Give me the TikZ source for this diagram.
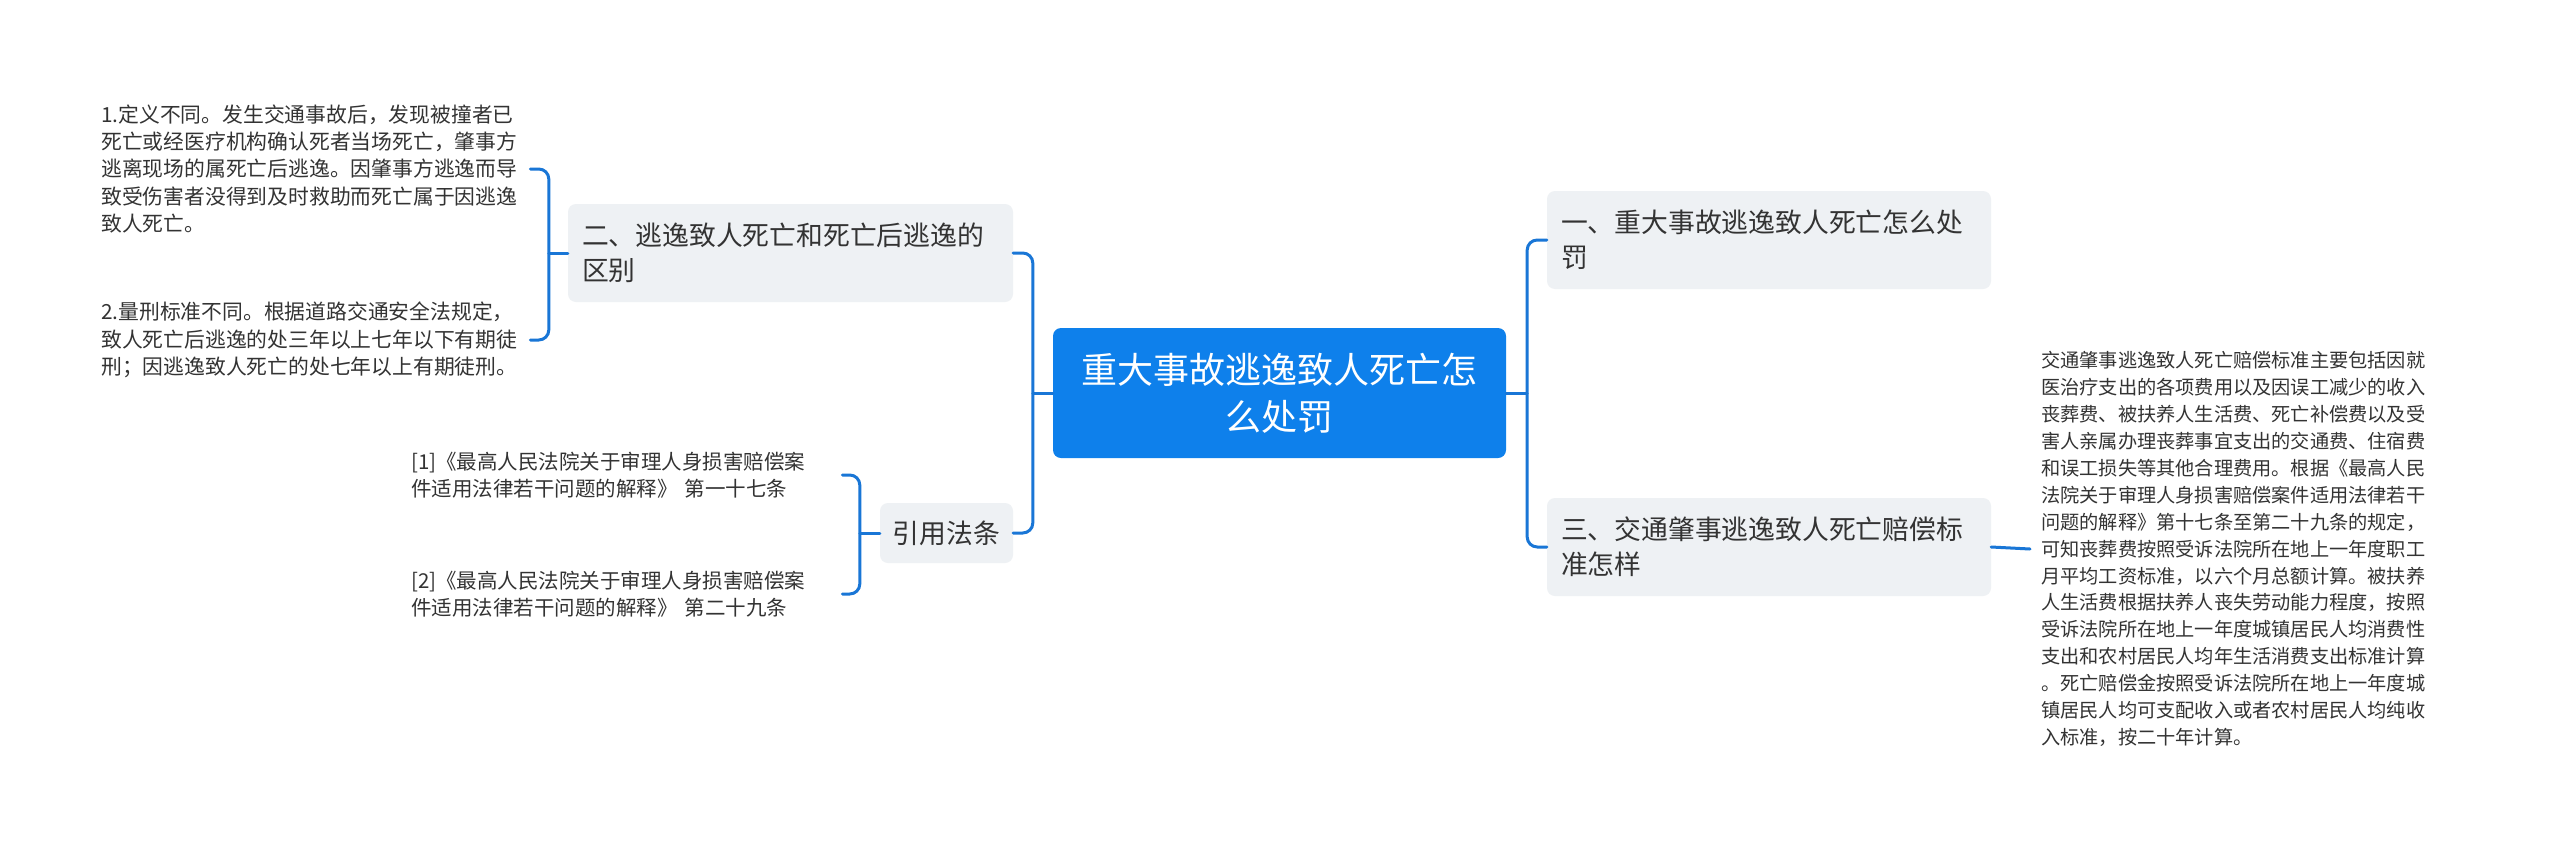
\documentclass[tikz,border=0pt]{standalone}
\usepackage{fontspec}
\setmainfont{Noto Sans CJK SC}
\usetikzlibrary{calc}
\definecolor{mainblue}{HTML}{0E80EB}
\definecolor{linkblue}{HTML}{1976D6}
\definecolor{boxgray}{HTML}{EEF1F4}
\definecolor{inkgray}{HTML}{333333}

\tikzset{
  topic/.style={fill=boxgray,rounded corners=8pt,text=inkgray,align=left,inner xsep=14pt,inner ysep=0pt,minimum height=98pt,font=\fontsize{26.8pt}{35pt}\selectfont},
  core/.style={fill=mainblue,rounded corners=8pt,text=white,align=center,minimum width=453pt,minimum height=130pt,font=\fontsize{36pt}{47pt}\selectfont},
  leaf/.style={text=inkgray,align=left,inner sep=0pt,anchor=west,font=\fontsize{20.8pt}{27.3pt}\selectfont},
  link/.style={linkblue,line width=3pt,rounded corners=10pt},
}

\begin{document}
\begin{tikzpicture}[x=1pt,y=-1pt,line cap=round,line join=round]
  \fill[white] (0,0) rectangle (2560,849);
  \useasboundingbox (0,0) rectangle (2560,849);

  \node[core] (root) at (1279.5,393) {重大事故逃逸致人死亡怎\\么处罚};

  \node[topic,text width=417pt] (q2) at (790.5,253) {二、逃逸致人死亡和死亡后逃逸的\\区别};
  \node[topic,align=center,inner xsep=0pt,minimum width=133pt,minimum height=60pt] (cite) at (946.5,533) {引用法条};
  \node[topic,text width=416pt] (q1) at (1769,240) {一、重大事故逃逸致人死亡怎么处\\罚};
  \node[topic,text width=416pt] (q3) at (1769,547) {三、交通肇事逃逸致人死亡赔偿标\\准怎样};

  \node[leaf,text width=429pt] (d1) at (101,169) {1.定义不同。发生交通事故后，发现被撞者已\\
死亡或经医疗机构确认死者当场死亡，肇事方\\
逃离现场的属死亡后逃逸。因肇事方逃逸而导\\
致受伤害者没得到及时救助而死亡属于因逃逸\\
致人死亡。};
  \node[leaf,text width=429pt] (d2) at (101,340) {2.量刑标准不同。根据道路交通安全法规定，\\
致人死亡后逃逸的处三年以上七年以下有期徒\\
刑；因逃逸致人死亡的处七年以上有期徒刑。};

  \node[leaf,text width=431pt,font=\fontsize{20.5pt}{27.3pt}\selectfont] (c1) at (411,475) {[1]《最高人民法院关于审理人身损害赔偿案\\件适用法律若干问题的解释》 第一十七条};
  \node[leaf,text width=431pt,font=\fontsize{20.5pt}{27.3pt}\selectfont] (c2) at (411,594) {[2]《最高人民法院关于审理人身损害赔偿案\\件适用法律若干问题的解释》 第二十九条};

  \node[leaf,text width=400pt,inner xsep=11pt,font=\fontsize{19.2pt}{26.9pt}\selectfont] (comp) at (2030,549) {交通肇事逃逸致人死亡赔偿标准主要包括因就\\
医治疗支出的各项费用以及因误工减少的收入\\
丧葬费、被扶养人生活费、死亡补偿费以及受\\
害人亲属办理丧葬事宜支出的交通费、住宿费\\
和误工损失等其他合理费用。根据《最高人民\\
法院关于审理人身损害赔偿案件适用法律若干\\
问题的解释》第十七条至第二十九条的规定，\\
可知丧葬费按照受诉法院所在地上一年度职工\\
月平均工资标准，以六个月总额计算。被扶养\\
人生活费根据扶养人丧失劳动能力程度，按照\\
受诉法院所在地上一年度城镇居民人均消费性\\
支出和农村居民人均年生活消费支出标准计算\\
。死亡赔偿金按照受诉法院所在地上一年度城\\
镇居民人均可支配收入或者农村居民人均纯收\\
入标准，按二十年计算。};

  % branches
  \draw[link] (root.west) -- ++(-20,0);
  \draw[link] (q2.east) -| ($(root.west)+(-20,0)$) |- (cite.east);
  \draw[link] (root.east) -- ++(21,0);
  \draw[link] (q1.west) -| ($(root.east)+(21,0)$) |- (q3.west);

  \draw[link] (q2.west) -- ++(-19,0);
  \draw[link] (d1.east) -| ($(q2.west)+(-19,0)$) |- (d2.east);
  \draw[link] (cite.west) -- ++(-20,0);
  \draw[link] (c1.east) -| ($(cite.west)+(-20,0)$) |- (c2.east);
  \draw[link] (q3.east) -- (comp.west);
\end{tikzpicture}
\end{document}
